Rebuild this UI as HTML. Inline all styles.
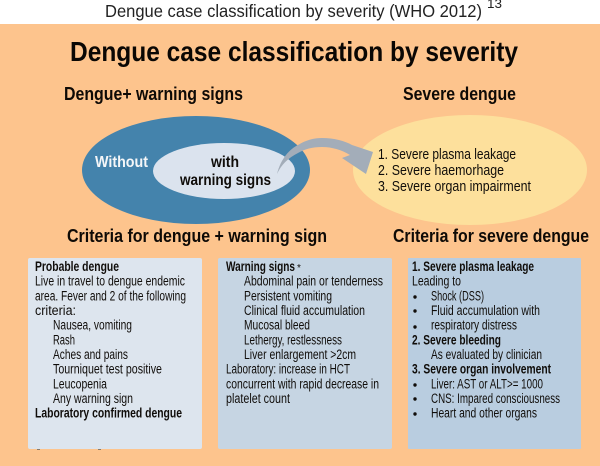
<!DOCTYPE html>
<html>
<head>
<meta charset="utf-8">
<style>
html,body{margin:0;padding:0;background:#fff;width:600px;height:466px;overflow:hidden}
svg{display:block;filter:blur(.35px)}
text{font-family:"Liberation Sans",sans-serif;fill:#100d0a;font-size:13.5px}
.b{font-weight:bold}
.h{font-weight:bold;font-size:18px;fill:#0e0a06}
</style>
</head>
<body>
<svg width="600" height="466" viewBox="0 0 600 466" xmlns="http://www.w3.org/2000/svg">
<rect x="0" y="0" width="600" height="466" fill="#ffffff"/>
<rect x="0" y="24" width="600" height="442" fill="#fdc48d"/>

<text x="105" y="17" textLength="377" lengthAdjust="spacingAndGlyphs" style="font-size:17.5px;fill:#222">Dengue case classification by severity (WHO 2012)</text>
<text x="487" y="8" textLength="15" lengthAdjust="spacingAndGlyphs" style="font-size:13px;fill:#222">13</text>

<text x="70" y="61" class="b" textLength="448" lengthAdjust="spacingAndGlyphs" style="font-size:28px;fill:#0a0704">Dengue case classification by severity</text>
<text x="64" y="100" class="h" textLength="179" lengthAdjust="spacingAndGlyphs">Dengue+ warning signs</text>
<text x="403" y="100" class="h" textLength="113" lengthAdjust="spacingAndGlyphs">Severe dengue</text>

<ellipse cx="196" cy="170" rx="114" ry="54" fill="#4483ac"/>
<ellipse cx="224" cy="171" rx="71" ry="28" fill="#dbe3ee"/>
<ellipse cx="470" cy="170" rx="117" ry="55" fill="#fde09c"/>

<path d="M277 174 C281 158 290 149 298 145 C306 140 314 138 322 138 C334 138 345 141 352 145 L373 152 L366 174 L342 158 L350 155 C342 150 332 147 322 147 C312 147 305 149 298 153 C288 158 281 165 277 174 Z" fill="#a3adb9"/>

<text x="95" y="167" class="b" textLength="53" lengthAdjust="spacingAndGlyphs" style="font-size:15.5px;fill:#f4f6f8">Without</text>
<text x="211" y="167" class="b" textLength="28" lengthAdjust="spacingAndGlyphs" style="font-size:15.5px">with</text>
<text x="180" y="185" class="b" textLength="91" lengthAdjust="spacingAndGlyphs" style="font-size:15.5px">warning signs</text>

<text x="378" y="159" textLength="138" lengthAdjust="spacingAndGlyphs" style="font-size:15px">1. Severe plasma leakage</text>
<text x="378" y="175" textLength="126" lengthAdjust="spacingAndGlyphs" style="font-size:15px">2.  Severe haemorhage</text>
<text x="378" y="191" textLength="153" lengthAdjust="spacingAndGlyphs" style="font-size:15px">3. Severe organ impairment</text>

<text x="67" y="242" class="h" textLength="260" lengthAdjust="spacingAndGlyphs">Criteria for dengue + warning sign</text>
<text x="393" y="242" class="h" textLength="196" lengthAdjust="spacingAndGlyphs">Criteria for severe dengue</text>

<rect x="28" y="258" width="174" height="191" rx="2" fill="#dde5ee"/>
<rect x="218" y="258" width="174" height="191" rx="2" fill="#c6d5e3"/>
<rect x="408" y="258" width="173" height="191" rx="1" fill="#b9cde0"/>
<rect x="37" y="449" width="3" height="1" fill="#8a7a68"/>
<rect x="98" y="449" width="3" height="1" fill="#8a7a68"/>

<!-- Panel 1 -->
<text x="35" y="271" class="b" textLength="84" lengthAdjust="spacingAndGlyphs">Probable dengue</text>
<text x="35" y="285.7" textLength="150" lengthAdjust="spacingAndGlyphs">Live in travel to dengue endemic</text>
<text x="35" y="300.3" textLength="151" lengthAdjust="spacingAndGlyphs">area. Fever and 2 of the following</text>
<text x="35" y="315" textLength="41" lengthAdjust="spacingAndGlyphs">criteria:</text>
<text x="53" y="329.7" textLength="79" lengthAdjust="spacingAndGlyphs">Nausea, vomiting</text>
<text x="53" y="344.3" textLength="22" lengthAdjust="spacingAndGlyphs">Rash</text>
<text x="53" y="359" textLength="75" lengthAdjust="spacingAndGlyphs">Aches and pains</text>
<text x="53" y="373.7" textLength="109" lengthAdjust="spacingAndGlyphs">Tourniquet test positive</text>
<text x="53" y="388.3" textLength="54" lengthAdjust="spacingAndGlyphs">Leucopenia</text>
<text x="53" y="403" textLength="80" lengthAdjust="spacingAndGlyphs">Any warning sign</text>
<text x="35" y="417.7" class="b" textLength="147" lengthAdjust="spacingAndGlyphs">Laboratory confirmed dengue</text>

<!-- Panel 2 -->
<text x="226" y="271" class="b" textLength="69" lengthAdjust="spacingAndGlyphs">Warning signs</text>
<text x="297" y="271" style="font-size:10px">*</text>
<text x="244" y="285.7" textLength="139" lengthAdjust="spacingAndGlyphs">Abdominal pain or tenderness</text>
<text x="244" y="300.3" textLength="88" lengthAdjust="spacingAndGlyphs">Persistent vomiting</text>
<text x="244" y="315" textLength="121" lengthAdjust="spacingAndGlyphs">Clinical fluid accumulation</text>
<text x="244" y="329.7" textLength="66" lengthAdjust="spacingAndGlyphs">Mucosal bleed</text>
<text x="244" y="344.3" textLength="98" lengthAdjust="spacingAndGlyphs">Lethergy, restlessness</text>
<text x="244" y="359" textLength="112" lengthAdjust="spacingAndGlyphs">Liver enlargement &gt;2cm</text>
<text x="226" y="373.7" textLength="124" lengthAdjust="spacingAndGlyphs">Laboratory: increase in HCT</text>
<text x="226" y="388.3" textLength="153" lengthAdjust="spacingAndGlyphs">concurrent with rapid decrease in</text>
<text x="226" y="403" textLength="64" lengthAdjust="spacingAndGlyphs">platelet count</text>

<!-- Panel 3 -->
<text x="412" y="271" class="b" textLength="122" lengthAdjust="spacingAndGlyphs">1. Severe plasma leakage</text>
<text x="412" y="285.7" textLength="49" lengthAdjust="spacingAndGlyphs">Leading to</text>
<circle cx="415" cy="297" r="1.7" fill="#100d0a"/>
<text x="431" y="300.3" textLength="53" lengthAdjust="spacingAndGlyphs">Shock (DSS)</text>
<circle cx="415" cy="311" r="1.7" fill="#100d0a"/>
<text x="431" y="315" textLength="109" lengthAdjust="spacingAndGlyphs">Fluid accumulation with</text>
<circle cx="415" cy="327" r="1.7" fill="#100d0a"/>
<text x="431" y="329.7" textLength="86" lengthAdjust="spacingAndGlyphs">respiratory distress</text>
<text x="412" y="344.3" class="b" textLength="89" lengthAdjust="spacingAndGlyphs">2. Severe bleeding</text>
<text x="431" y="359" textLength="111" lengthAdjust="spacingAndGlyphs">As evaluated by clinician</text>
<text x="412" y="373.7" class="b" textLength="139" lengthAdjust="spacingAndGlyphs">3. Severe organ involvement</text>
<circle cx="415" cy="385" r="1.7" fill="#100d0a"/>
<text x="431" y="388.3" textLength="112" lengthAdjust="spacingAndGlyphs">Liver: AST or ALT&gt;= 1000</text>
<circle cx="415" cy="399" r="1.7" fill="#100d0a"/>
<text x="431" y="403" textLength="129" lengthAdjust="spacingAndGlyphs">CNS: Impared consciousness</text>
<circle cx="415" cy="414" r="1.7" fill="#100d0a"/>
<text x="431" y="417.7" textLength="106" lengthAdjust="spacingAndGlyphs">Heart and other organs</text>
</svg>
</body>
</html>
